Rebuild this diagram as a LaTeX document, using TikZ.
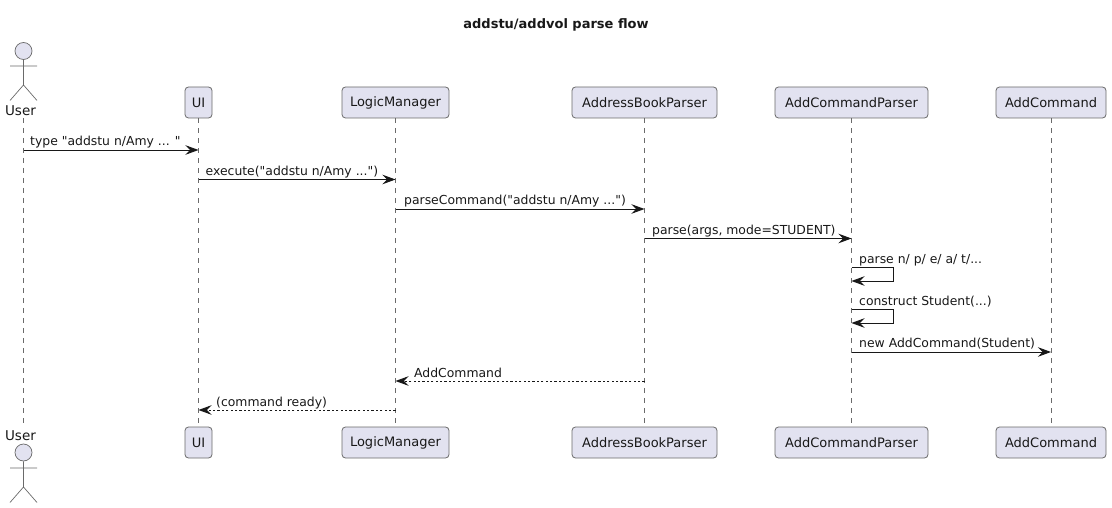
\documentclass[tikz,border=0pt]{standalone}
\usepackage{fontspec}
\newfontfamily\dvfont{DejaVu Sans}
\usetikzlibrary{arrows.meta,calc}
\definecolor{pfill}{HTML}{E2E2F0}
\definecolor{pline}{HTML}{6A6A6A}
\definecolor{ink}{HTML}{181818}
\tikzset{
 x=1pt,y=-1pt,
 part/.style={draw=pline,fill=pfill,rounded corners=3.5pt,line width=.8pt,minimum height=31pt,inner sep=0pt,text=ink,font=\dvfont\fontsize{13}{16}\selectfont},
 life/.style={draw=pline,line width=.7pt,dash pattern=on 5pt off 5pt},
 actorlabel/.style={inner sep=0pt,text=ink,font=\dvfont\fontsize{13.5}{16}\selectfont},
 actorline/.style={draw=pline,line width=.7pt},
 head/.style={draw=pline,fill=pfill,line width=.7pt,circle,minimum size=17pt,inner sep=0pt},
 msg/.style={draw=ink,line width=.9pt,-{Stealth[length=13pt,width=9.5pt,inset=4.5pt]}},
 ret/.style={msg,dash pattern=on 2.2pt off 2.2pt},
 lbl/.style={anchor=base west,inner sep=0pt,text=ink,font=\dvfont\fontsize{12.4}{15}\selectfont},
}
\begin{document}
\begin{tikzpicture}
\useasboundingbox (0,0) rectangle (1112,508);
\node[anchor=base,inner sep=0pt,text=ink,font=\dvfont\fontsize{13}{15}\selectfont\bfseries] (title) at (556,29) {addstu/addvol parse flow};
% lifelines
\coordinate (uT) at (23.5,118); \coordinate (uB) at (23.5,423);
\draw[life] (uT) -- (uB);
\node[part,minimum width=27pt] (ui) at (198.5,102.5) {UI};
\node[part,minimum width=107pt] (lm) at (395.5,102.5) {LogicManager};
\node[part,minimum width=145pt] (abp) at (644.5,102.5) {AddressBookParser};
\node[part,minimum width=153pt] (acp) at (851.5,102.5) {AddCommandParser};
\node[part,minimum width=110pt] (ac) at (1051,102.5) {AddCommand};
\node[part,minimum width=27pt] (ui2) at (198.5,442.5) {UI};
\node[part,minimum width=107pt] (lm2) at (395.5,442.5) {LogicManager};
\node[part,minimum width=145pt] (abp2) at (644.5,442.5) {AddressBookParser};
\node[part,minimum width=153pt] (acp2) at (851.5,442.5) {AddCommandParser};
\node[part,minimum width=110pt] (ac2) at (1051,442.5) {AddCommand};
\draw[life] (ui) -- (ui2);
\draw[life] (lm) -- (lm2);
\draw[life] (abp) -- (abp2);
\draw[life] (acp) -- (acp2);
\draw[life] (ac) -- (ac2);
% actors
\node[head] (h1) at (23.5,51) {};
\coordinate (b1) at (23.5,85);
\coordinate (a1l) at (10,66); \coordinate (a1r) at (37,66);
\coordinate (l1l) at (10,100.5); \coordinate (l1r) at (37,100.5);
\draw[actorline] (h1) -- (b1) (a1l) -- (a1r) (l1l) -- (b1) -- (l1r);
\node[actorlabel] (user1) at (20.5,111) {User};
\node[actorlabel] (user2) at (20.5,436) {User};
\node[head] (h2) at (23.5,452.5) {};
\coordinate (b2) at (23.5,487);
\coordinate (a2l) at (10,468); \coordinate (a2r) at (37,468);
\coordinate (l2l) at (10,502.5); \coordinate (l2r) at (37,502.5);
\draw[actorline] (h2) -- (b2) (a2l) -- (a2r) (l2l) -- (b2) -- (l2r);
% rows
\foreach \n/\y in {r1/150,r2/179.5,r3/209,r4/238.5,r5a/267.5,r5b/281,r6a/309.5,r6b/323,r7/352,r8/381,r9/410}
  \coordinate (\n) at (0,\y);
\draw[msg] (uT |- r1) -- (ui |- r1);
\node[lbl] at (30,146) {type "addstu n/Amy ... "};
\draw[msg] (ui |- r2) -- (lm |- r2);
\node[lbl] at (205.5,175.5) {execute("addstu n/Amy ...")};
\draw[msg] (lm |- r3) -- (abp |- r3);
\node[lbl] at (404,204.5) {parseCommand("addstu n/Amy ...")};
\draw[msg] (abp |- r4) -- (acp |- r4);
\node[lbl] at (652,234) {parse(args, mode=STUDENT)};
\coordinate (s1) at (893.5,0); \coordinate (s2) at (893.5,0);
\draw[msg] (acp |- r5a) -- (s1 |- r5a) -- (s1 |- r5b) -- (acp |- r5b);
\node[lbl] at (859,263) {parse n/ p/ e/ a/ t/...};
\draw[msg] (acp |- r6a) -- (s2 |- r6a) -- (s2 |- r6b) -- (acp |- r6b);
\node[lbl] at (859,305) {construct Student(...)};
\draw[msg] (acp |- r7) -- (ac |- r7);
\node[lbl] at (859,347) {new AddCommand(Student)};
\draw[ret] (abp |- r8) -- (lm |- r8);
\node[lbl] at (414,377) {AddCommand};
\draw[ret] (lm |- r9) -- (ui |- r9);
\node[lbl] at (216,406) {(command ready)};
\end{tikzpicture}
\end{document}
